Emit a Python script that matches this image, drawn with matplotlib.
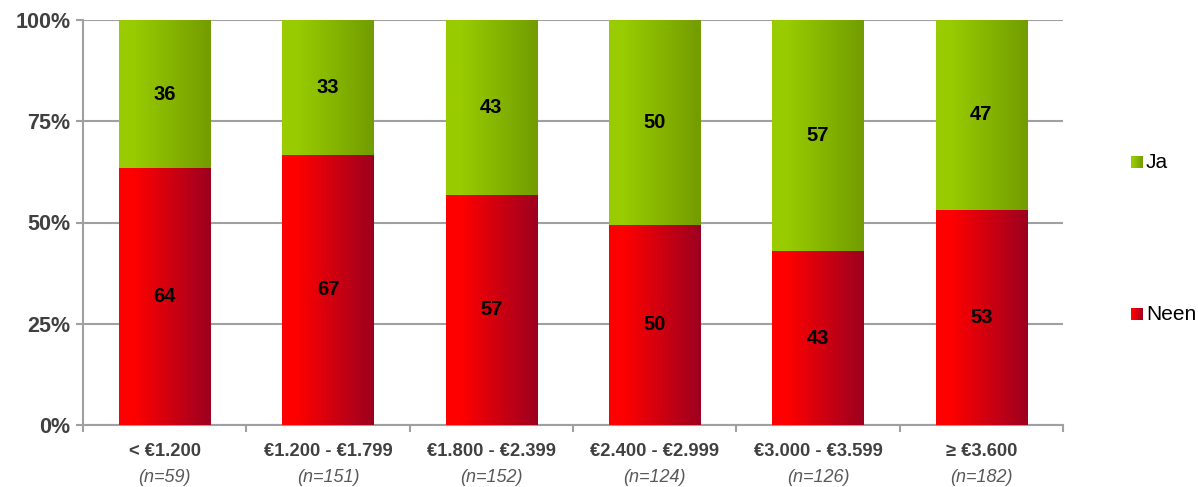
import numpy as np
import matplotlib
matplotlib.use("Agg")
import matplotlib.pyplot as plt
from matplotlib.colors import LinearSegmentedColormap
from matplotlib.patches import Rectangle

categories = ["< €1.200", "€1.200 - €1.799", "€1.800 - €2.399",
              "€2.400 - €2.999", "€3.000 - €3.599", "≥ €3.600"]
sample_sizes = ["(n=59)", "(n=151)", "(n=152)", "(n=124)", "(n=126)", "(n=182)"]
# shown labels
neen = [64, 67, 57, 50, 43, 53]
ja = [36, 33, 43, 50, 57, 47]
# segment heights (share of Neen, %)
neen_share = [63.4, 66.7, 56.8, 49.5, 42.9, 53.2]
yticks = [0, 25, 50, 75, 100]

plt.rcParams["font.family"] = ["Liberation Sans", "DejaVu Sans"]

red_cmap = LinearSegmentedColormap.from_list(
    "red", [(0, "#ff0000"), (0.15, "#ff0000"), (1, "#9c0020")])
green_cmap = LinearSegmentedColormap.from_list(
    "green", [(0, "#99cc00"), (0.15, "#99cc00"), (1, "#729c00")])
grad = np.linspace(0, 1, 256).reshape(1, -1)

fig = plt.figure(figsize=(11.98, 4.87), dpi=100)
ax = fig.add_axes([83 / 1198, (487 - 425) / 487, (1063 - 83) / 1198, (425 - 20) / 487])

x = np.arange(len(categories))
w = 0.56


def grad_bar(ax, xc, bottom, height, cmap, z):
    ext = (xc - w / 2, xc + w / 2, bottom, bottom + height)
    im = ax.imshow(grad, cmap=cmap, extent=ext, aspect="auto", zorder=z,
                   interpolation="bilinear")
    r = Rectangle((ext[0], bottom), w, height, transform=ax.transData)
    im.set_clip_path(r)


for i in range(len(categories)):
    # green drawn full height underneath, red on top -> no seam
    grad_bar(ax, x[i], 0, 100, green_cmap, 3)
    grad_bar(ax, x[i], 0, neen_share[i], red_cmap, 4)
    ax.text(x[i], neen_share[i] / 2, str(neen[i]), ha="center", va="center",
            fontsize=14.5, fontweight="bold", color="black", zorder=5)
    ax.text(x[i], (neen_share[i] + 100) / 2, str(ja[i]), ha="center", va="center",
            fontsize=14.5, fontweight="bold", color="black", zorder=5)

ax.set_xlim(-0.5, len(categories) - 0.5)
ax.set_ylim(0, 100)
ax.set_yticks(yticks)
ax.set_yticklabels([f"{t}%" for t in yticks], fontsize=15.5,
                   fontweight="bold", color="#404040")
ax.yaxis.grid(True, color="#a0a0a0", linewidth=1.5, zorder=0)
ax.set_axisbelow(True)

ax.set_xticks(np.arange(len(categories) + 1) - 0.5)
ax.set_xticklabels([])
ax.tick_params(axis="x", length=5, width=1.5, color="#a0a0a0", direction="out")
ax.tick_params(axis="y", length=5, width=1.5, color="#a0a0a0", pad=4)

for i in range(len(categories)):
    ax.annotate(categories[i], xy=(x[i], 0), xycoords=("data", "axes fraction"),
                xytext=(0, -13), textcoords="offset points", ha="center", va="top",
                fontsize=13.2, fontweight="bold", color="#404040")
    ax.annotate(sample_sizes[i], xy=(x[i], 0), xycoords=("data", "axes fraction"),
                xytext=(0, -32), textcoords="offset points", ha="center", va="top",
                fontsize=13, fontstyle="italic", color="#595959")

for s in ["top", "right"]:
    ax.spines[s].set_visible(False)
for s in ["left", "bottom"]:
    ax.spines[s].set_color("#a0a0a0")
    ax.spines[s].set_linewidth(1.5)

# legend
legend_items = [("Ja", green_cmap, 162), ("Neen", red_cmap, 314)]
for label, cmap, yc in legend_items:
    lax = fig.add_axes([1131 / 1198, (487 - yc - 6) / 487, 12 / 1198, 12 / 487])
    lax.imshow(grad, cmap=cmap, aspect="auto")
    lax.axis("off")
    fig.text(1146 / 1198, (487 - yc) / 487, label, ha="left", va="center",
             fontsize=15, color="black")

fig.savefig("out.png", dpi=100)
